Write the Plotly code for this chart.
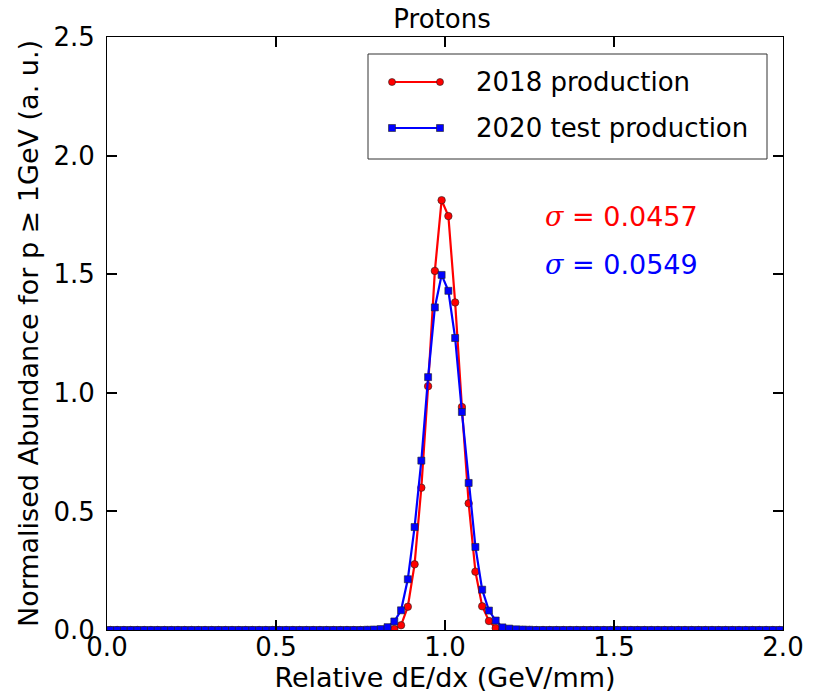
import plotly.graph_objects as go

# Bin centres of the relative dE/dx histogram (bin width 0.02)
bin_centres = [round(0.01 + 0.02 * i, 2) for i in range(100)]

# Normalised abundance in the populated bins; every other bin is empty
prod2018_nonzero = {
    0.83: 0.001, 0.85: 0.004, 0.87: 0.020, 0.89: 0.098, 0.91: 0.277,
    0.93: 0.600, 0.95: 1.028, 0.97: 1.514, 0.99: 1.812, 1.01: 1.745,
    1.03: 1.381, 1.05: 0.940, 1.07: 0.534, 1.09: 0.246, 1.11: 0.100,
    1.13: 0.038, 1.15: 0.008, 1.17: 0.002,
}
prod2020_nonzero = {
    0.77: 0.001, 0.79: 0.002, 0.81: 0.004, 0.83: 0.012, 0.85: 0.036,
    0.87: 0.083, 0.89: 0.214, 0.91: 0.434, 0.93: 0.714, 0.95: 1.066,
    0.97: 1.360, 0.99: 1.497, 1.01: 1.430, 1.03: 1.231, 1.05: 0.919,
    1.07: 0.620, 1.09: 0.350, 1.11: 0.170, 1.13: 0.082, 1.15: 0.040,
    1.17: 0.011, 1.19: 0.006, 1.21: 0.003, 1.23: 0.002, 1.25: 0.001,
}
abundance_2018 = [prod2018_nonzero.get(x, 0.0) for x in bin_centres]
abundance_2020 = [prod2020_nonzero.get(x, 0.0) for x in bin_centres]

series_names = ["2018 production", "2020 test production"]
sigma_values = [0.0457, 0.0549]
x_ticks = [0.0, 0.5, 1.0, 1.5, 2.0]
y_ticks = [0.0, 0.5, 1.0, 1.5, 2.0, 2.5]

RED = "#ff0000"
BLUE = "#0000ff"
EDGE = "#222222"
FONT = "DejaVu Sans"
FS = 26

fig = go.Figure()
fig.add_trace(go.Scatter(
    x=bin_centres, y=abundance_2018, mode="lines+markers", name=series_names[0],
    line=dict(color=RED, width=2.2),
    marker=dict(symbol="circle", size=7.5, color=RED, line=dict(color=EDGE, width=0.6)),
))
fig.add_trace(go.Scatter(
    x=bin_centres, y=abundance_2020, mode="lines+markers", name=series_names[1],
    line=dict(color=BLUE, width=2.2),
    marker=dict(symbol="square", size=7, color=BLUE, line=dict(color=EDGE, width=0.6)),
))

# Plot area in pixels: left 107, right 783, top 37, bottom 630
W, H = 819, 698
L, R, T, B = 107, 783, 37, 630
pw, ph = R - L, B - T


def px_x(p):
    return (p - L) / pw


def px_y(p):
    return (B - p) / ph


shapes = []
annotations = []

# Legend frame
shapes.append(dict(type="rect", xref="paper", yref="paper",
                   x0=px_x(368), x1=px_x(767), y0=px_y(159), y1=px_y(54),
                   line=dict(color="#333333", width=1), fillcolor="white", layer="above"))

legend_rows = [(82, RED, "circle"), (128, BLUE, "rect")]
for (row_y, col, sym), name in zip(legend_rows, series_names):
    yy = px_y(row_y)
    shapes.append(dict(type="line", xref="paper", yref="paper",
                       x0=px_x(392), x1=px_x(440), y0=yy, y1=yy,
                       line=dict(color=col, width=2.2), layer="above"))
    for end in (392, 440):
        shapes.append(dict(type=sym, xref="paper", yref="paper",
                           xsizemode="pixel", ysizemode="pixel",
                           xanchor=px_x(end), yanchor=yy,
                           x0=-3.5, x1=3.5, y0=-3.5, y1=3.5,
                           fillcolor=col, line=dict(color=EDGE, width=0.6), layer="above"))
    annotations.append(dict(xref="paper", yref="paper", x=px_x(474), y=yy,
                            xanchor="left", yanchor="middle", showarrow=False,
                            text=name, font=dict(family=FONT, size=FS, color="black")))

# Width annotations for each production
for sig, col, row_y in zip(sigma_values, [RED, BLUE], [216, 264]):
    annotations.append(dict(
        xref="paper", yref="paper", x=px_x(543), y=px_y(row_y),
        xanchor="left", yanchor="middle", showarrow=False,
        text=f"<span style='font-family:DejaVu Serif'><i>σ</i></span> = {sig:.4f}",
        font=dict(family=FONT, size=FS + 1, color=col)))

axis_common = dict(
    showline=True, linecolor="black", linewidth=1, mirror="ticks",
    ticks="inside", ticklen=10, tickwidth=2, tickcolor="black",
    showgrid=False, zeroline=False, automargin=False,
    tickfont=dict(family=FONT, size=FS, color="black"),
    title_font=dict(family=FONT, size=FS + 1, color="black"),
)

fig.update_layout(
    width=W, height=H,
    margin=dict(l=L, r=W - R, t=T, b=H - B),
    paper_bgcolor="white", plot_bgcolor="white",
    showlegend=False,
    title=dict(text="Protons", x=px_x(442), xref="paper", xanchor="center",
               y=1 - 19 / H, yanchor="middle",
               font=dict(family=FONT, size=FS, color="black")),
    xaxis=dict(range=[0, 2], tickvals=x_ticks, ticktext=[f"{v:.1f}" for v in x_ticks],
               title=dict(text="Relative dE/dx (GeV/mm)", standoff=3),
               ticklabelstandoff=-6, **axis_common),
    yaxis=dict(range=[0, 2.5], tickvals=y_ticks, ticktext=[f"{v:.1f}" for v in y_ticks],
               title=dict(text="Normalised Abundance for p ≥ 1GeV (a. u.)", standoff=6),
               ticklabelstandoff=6, **axis_common),
    shapes=shapes,
    annotations=annotations,
)

fig.write_html("out.html")
